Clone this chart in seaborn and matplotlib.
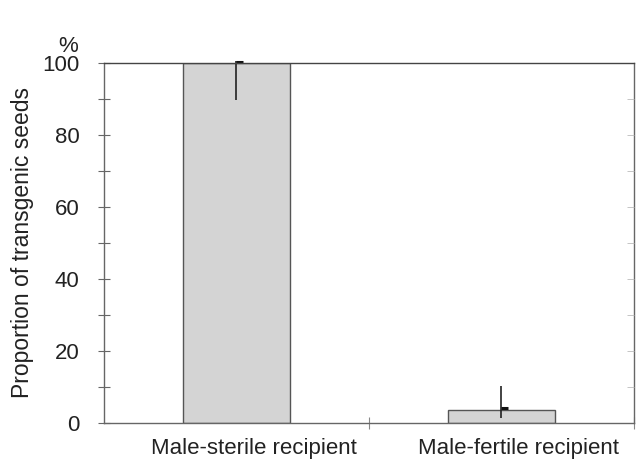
import matplotlib
matplotlib.use("Agg")
import matplotlib.pyplot as plt
import matplotlib.transforms as mtransforms
import seaborn as sns
import pandas as pd

categories = ["Male-sterile recipient", "Male-fertile recipient"]
values = [100.0, 3.6]
err_low = [10.3, 2.2]
err_high = [0.5, 6.7]
cap_level = [100.3, 4.2]

sns.set_theme(style="white")
plt.rcParams["font.family"] = ["Liberation Sans", "DejaVu Sans"]

df = pd.DataFrame({"cat": categories, "val": values})

fig = plt.figure(figsize=(6.39, 4.63), dpi=100)
ax = fig.add_axes([0.1628, 0.0864, 0.8292, 0.7776])

sns.barplot(data=df, x="cat", y="val", ax=ax, color="#d4d4d4",
            edgecolor="#555555", linewidth=1.0, width=0.405, saturation=1)

xs = list(range(len(categories)))
eb = ax.errorbar(xs, values, yerr=[err_low, err_high], fmt="none",
                 ecolor="#222222", elinewidth=1.2, capsize=0)
for coll in eb.lines[2]:
    coll.set_clip_on(False)
for x, c in zip(xs, cap_level):
    ax.hlines(c, x, x + 0.025, colors="#111111", linewidth=2.2, clip_on=False)

ax.set_xlim(-0.5, 1.5)
ax.set_ylim(0, 100)
ax.set_yticks([0, 20, 40, 60, 80, 100])
ax.set_yticks([10, 30, 50, 70, 90], minor=True)
ax.set_xticks([0.5, 1.5], minor=True)
ax.tick_params(axis="y", which="both", direction="inout", length=9, width=0.8,
               color="#666666", labelsize=16, labelcolor="#222222", pad=13, left=True)
ax.tick_params(axis="x", which="major", length=0, labelsize=16, labelcolor="#222222", pad=11)
ax.tick_params(axis="x", which="minor", direction="inout", length=9, width=0.8,
               color="#888888", bottom=True)
offset = mtransforms.ScaledTranslation(17 / 100, 0, fig.dpi_scale_trans)
for lbl in ax.get_xticklabels():
    lbl.set_transform(lbl.get_transform() + offset)
ax.set_xlabel("")
ax.set_ylabel("Proportion of transgenic seeds", fontsize=16.5, color="#222222", labelpad=6)

for s in ["left", "bottom", "right"]:
    ax.spines[s].set_color("#666666")
    ax.spines[s].set_linewidth(1.0)
ax.spines["top"].set_color("#444444")
ax.spines["top"].set_linewidth(1.0)

ax2 = ax.twinx()
ax2.set_ylim(0, 100)
ax2.set_yticks(list(range(10, 100, 10)))
ax2.tick_params(axis="y", direction="in", length=5, width=0.6, color="#bbbbbb",
                labelright=False, right=True)
for s in ax2.spines.values():
    s.set_visible(False)

fig.text(68 / 639, 1 - 46 / 463, "%", fontsize=16, color="#222222",
         ha="center", va="center")

fig.savefig("out.png", dpi=100)
